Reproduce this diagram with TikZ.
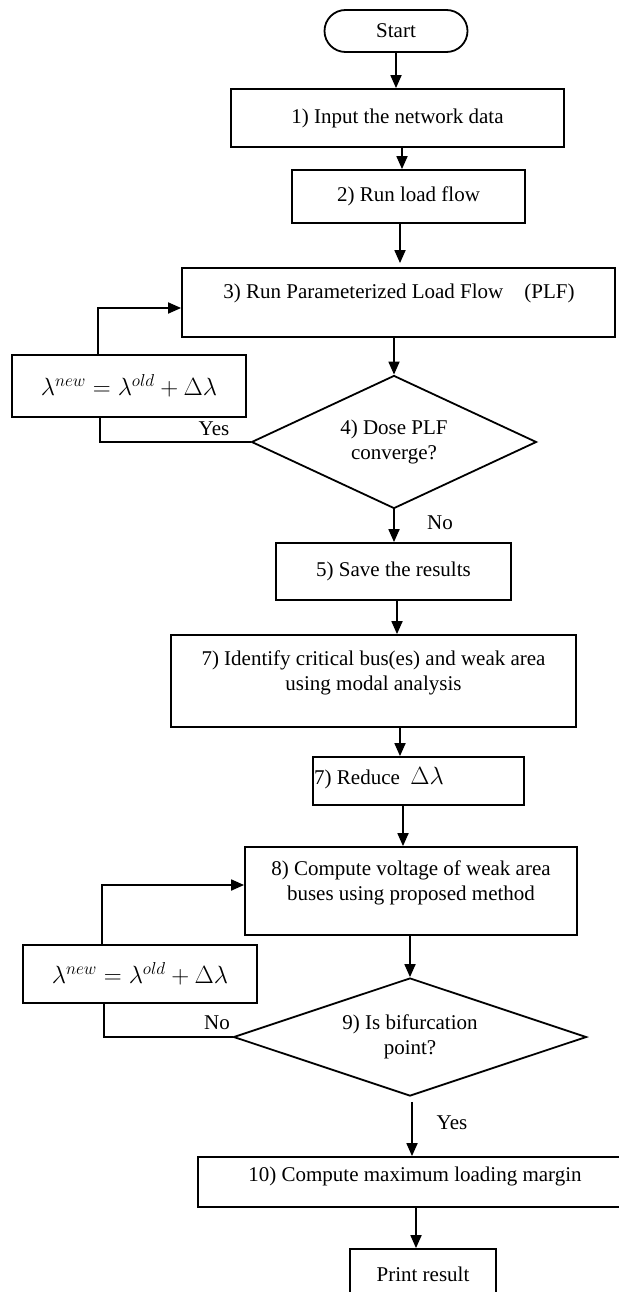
\documentclass[tikz,border=0pt]{standalone}
\usepackage{fontspec}
\setmainfont{Liberation Serif}
\usetikzlibrary{arrows.meta,shapes.geometric,shapes.misc}
\begin{document}
\begin{tikzpicture}[x=1pt,y=-1pt,
  every node/.style={font=\fontsize{21}{25}\selectfont},
  procbox/.style={draw, rectangle, line width=1.8pt, inner sep=0pt, align=center},
  term/.style={draw, rounded rectangle, line width=1.8pt, inner sep=0pt, minimum width=143pt, minimum height=42pt},
  decision/.style={draw, diamond, aspect=2.5, line width=1.8pt, inner sep=0pt, align=center},
  mathbox/.style={procbox, font=\fontsize{24}{28}\selectfont},
  txt/.style={inner sep=0pt, align=center},
  lbl/.style={inner sep=0pt},
  conn/.style={line width=1.8pt},
  arr/.style={line width=1.8pt, -{Triangle[length=13pt,width=11pt]}}
]
\useasboundingbox (0,0) rectangle (618,1292);
\fill[white] (0,0) rectangle (618,1292);

% nodes
\node[term] (start) at (396,31) {Start};
\node[procbox, minimum width=333pt, minimum height=58pt] (b1) at (397.5,118) {1) Input the network data};
\node[procbox, minimum width=233pt, minimum height=53pt] (b2) at (408.5,196.5) {2) Run load flow};
\node[procbox, minimum width=433pt, minimum height=69pt] (b3) at (398.5,302.5) {};
\node[txt] (b3t) at (399,293) {3) Run Parameterized Load Flow\quad(PLF)};
\node[mathbox, minimum width=234pt, minimum height=62pt] (lam1) at (129,386) {$\lambda^{new}=\lambda^{old}+\Delta\lambda$};
\node[decision, minimum width=285pt, minimum height=133pt] (d4) at (394,442) {4) Dose PLF\\converge?};
\node[procbox, minimum width=235pt, minimum height=57pt] (b5) at (393.5,571.5) {5) Save the results};
\node[procbox, minimum width=405pt, minimum height=92pt] (b7a) at (373.5,681) {};
\node[txt] (b7at) at (373.5,673) {7) Identify critical bus(es) and weak area\\using modal analysis};
\node[procbox, minimum width=211pt, minimum height=48pt] (b7b) at (418.5,781) {};
\node[txt, anchor=west] (b7bt) at (314,778) {7) Reduce\ \ {\fontsize{24}{28}\selectfont$\Delta\lambda$}};
\node[procbox, minimum width=332pt, minimum height=88pt] (b8) at (411,891) {};
\node[txt] (b8t) at (411,882.5) {8) Compute voltage of weak area\\buses using proposed method};
\node[mathbox, minimum width=234pt, minimum height=58pt] (lam2) at (140,974) {$\lambda^{new}=\lambda^{old}+\Delta\lambda$};
\node[decision, minimum width=353pt, minimum height=118pt] (d9) at (410,1037) {9) Is bifurcation\\point?};
\node[procbox, minimum width=430pt, minimum height=50pt] (b10) at (413,1182) {};
\node[txt] (b10t) at (415,1176) {10) Compute maximum loading margin};
\node[procbox, minimum width=146pt, minimum height=51pt] (b11) at (423,1274.5) {Print result};

% labels
\node[lbl] (yes1) at (214,429) {Yes};
\node[lbl] (no1) at (440,523) {No};
\node[lbl] (no2) at (217,1023) {No};
\node[lbl] (yes2) at (452,1123) {Yes};

% connectors
\draw[arr] (start.south) -- (start.south |- b1.north);
\draw[arr] ([xshift=-6.5pt]b2.north |- b1.south) -- ([xshift=-6.5pt]b2.north);
\draw[arr, shorten >=4pt] ([xshift=-8.5pt]b2.south) -- ([xshift=-8.5pt]b2.south |- b3.north);
\draw[arr] (d4.north |- b3.south) -- (d4.north);
\draw[conn] (d4.west) -| ([xshift=-29pt]lam1.south);
\draw[arr] ([xshift=-31pt]lam1.north) |- ([yshift=-5.5pt]b3.west);
\draw[arr] (d4.south) -- (d4.south |- b5.north);
\draw[arr] ([xshift=3.5pt]b5.south) -- ([xshift=3.5pt]b5.south |- b7a.north);
\draw[arr] ([xshift=-18.5pt]b7b.north |- b7a.south) -- ([xshift=-18.5pt]b7b.north);
\draw[arr] ([xshift=-8pt]b8.north |- b7b.south) -- ([xshift=-8pt]b8.north);
\draw[arr] (d9.north |- b8.south) -- (d9.north);
\draw[conn] (d9.west) -| ([xshift=-36pt]lam2.south);
\draw[arr] ([xshift=-38pt]lam2.north) |- ([yshift=6pt]b8.west);
\draw[arr] ([xshift=2pt,yshift=-5pt]d9.south) -- ([xshift=2pt]d9.south |- b10.north);
\draw[arr] ([xshift=-7pt]b11.north |- b10.south) -- ([xshift=-7pt]b11.north);
\end{tikzpicture}
\end{document}
